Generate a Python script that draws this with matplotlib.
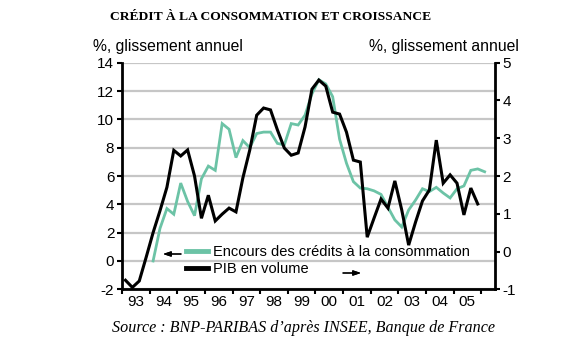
import matplotlib.pyplot as plt
import numpy as np

plt.rcParams['font.family'] = ['Liberation Sans', 'DejaVu Sans']
plt.rcParams['axes.unicode_minus'] = False

# données trimestrielles
annees = ['93', '94', '95', '96', '97', '98', '99', '00', '01', '02', '03', '04', '05']
debut_pib = 1993      # PIB en volume, à partir de 1993T1 (axe de droite)
debut_credit = 1994   # encours des crédits, à partir de 1994T1 (axe de gauche)

pib = [-0.76, -0.95, -0.78, -0.15, 0.5, 1.08, 1.7, 2.68, 2.53, 2.69, 2.0, 0.88,
       1.49, 0.81, 0.99, 1.15, 1.05, 1.95, 2.69, 3.61, 3.80, 3.75, 3.22, 2.74,
       2.55, 2.61, 3.30, 4.30, 4.54, 4.38, 3.69, 3.64, 3.16, 2.42, 2.37, 0.38,
       0.89, 1.39, 1.15, 1.87, 1.10, 0.17, 0.78, 1.34, 1.63, 2.95, 1.81, 2.03,
       1.81, 0.97, 1.68, 1.26]

credit = [0.0, 2.3, 3.7, 3.3, 5.5, 4.2, 3.2, 5.8, 6.7, 6.4, 9.7, 9.3, 7.3,
          8.5, 8.0, 9.0, 9.1, 9.1, 8.3, 8.2, 9.7, 9.6, 10.3, 11.8, 12.8, 12.5,
          11.6, 8.6, 6.9, 5.6, 5.15, 5.1, 4.95, 4.7, 3.8, 2.9, 2.4, 3.6, 4.3,
          5.1, 4.9, 5.2, 4.8, 4.45, 5.1, 5.3, 6.4, 6.5, 6.3]

x_pib = debut_pib + (np.arange(len(pib)) + 0.5) / 4
x_credit = debut_credit + (np.arange(len(credit)) + 0.5) / 4

vert = '#6cc3a6'
W, H = 562, 351

fig = plt.figure(figsize=(W / 100, H / 100), dpi=100)
ax = fig.add_axes([122 / W, 1 - 289.3 / H, (495 - 122) / W, (289.3 - 62.7) / H])
ax2 = ax.twinx()

l1, = ax.plot(x_credit, credit, color=vert, lw=2.0, solid_joinstyle='miter',
              label='Encours des crédits à la consommation')
l2, = ax2.plot(x_pib, pib, color='black', lw=2.2, solid_joinstyle='miter',
               label='PIB en volume')

ax.set_xlim(1993, 2006.5)
ax.set_ylim(-2, 14)
ax.set_yticks(range(-2, 15, 2))
ax2.set_ylim(-1, 5)
ax2.set_yticks(range(-1, 6))

ax.grid(axis='y', color='#c6c6c6', lw=1.6)
ax.set_axisbelow(True)

ax.set_xticks(range(1993, 2007))
ax.set_xticklabels([])
ax.set_xticks(np.arange(1993.5, 2006), minor=True)
ax.set_xticklabels(annees, minor=True)
ax.tick_params(axis='x', which='major', length=3.5, width=1.5, direction='out')
ax.tick_params(axis='x', which='minor', length=0, pad=4, labelsize=11)
ax.tick_params(axis='y', length=3.5, width=1.5, pad=2, labelsize=11)
ax2.tick_params(axis='y', length=3.5, width=1.5, pad=2, labelsize=11)

for a in (ax, ax2):
    a.spines['top'].set_visible(False)
ax.spines['right'].set_visible(False)
ax2.spines['left'].set_visible(False)
ax2.spines['bottom'].set_visible(False)
for s in ('left', 'bottom'):
    ax.spines[s].set_linewidth(2)
ax2.spines['right'].set_linewidth(2)

leg = ax2.legend(handles=[l1, l2], loc='upper left',
                 bbox_to_anchor=(186 / W, 1 - 245 / H), bbox_transform=fig.transFigure,
                 frameon=False, borderpad=0, borderaxespad=0, handlelength=1.5,
                 handletextpad=0.33, labelspacing=0.2, fontsize=10.5)
for h in leg.get_lines():
    h.set_linewidth(3.5)

fleche = dict(arrowstyle='-|>,head_length=0.45,head_width=0.15', color='black', lw=0.9,
              shrinkA=0, shrinkB=0)
fig.add_artist(plt.annotate('', xy=(163 / W, 1 - 254 / H), xytext=(181 / W, 1 - 254 / H),
                            xycoords='figure fraction', arrowprops=fleche))
fig.add_artist(plt.annotate('', xy=(361 / W, 1 - 273 / H), xytext=(343 / W, 1 - 273 / H),
                            xycoords='figure fraction', arrowprops=fleche))

fig.text(93 / W, 1 - 46 / H, '%, glissement annuel', ha='left', va='center', fontsize=11.3)
fig.text(519 / W, 1 - 46 / H, '%, glissement annuel', ha='right', va='center', fontsize=11.3)

fig.text(271 / W, 1 - 17 / H, 'CRÉDIT À LA CONSOMMATION ET CROISSANCE', ha='center',
         va='center', fontsize=9.7, fontweight='bold', family=['Liberation Serif'])
fig.text(303 / W, 1 - 328 / H, "Source : BNP-PARIBAS d’après INSEE, Banque de France",
         ha='center', va='center', fontsize=11.6, style='italic', family=['Liberation Serif'])

fig.savefig('out.png', dpi=100)
